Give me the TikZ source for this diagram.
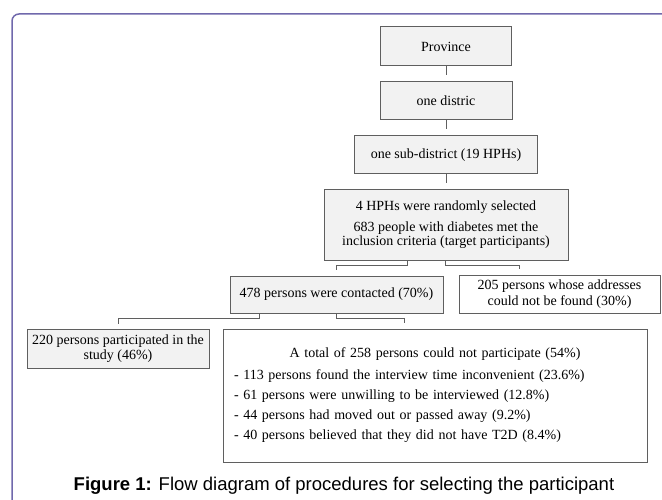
\documentclass[tikz,border=0pt]{standalone}
\usepackage{fontspec}
\setmainfont{Liberation Serif}
\newfontfamily\captionfont{Liberation Sans}
\usetikzlibrary{positioning}

\definecolor{framepurple}{RGB}{112,104,172}
\definecolor{boxgrey}{RGB}{242,242,242}
\definecolor{edgegrey}{RGB}{95,95,95}

\begin{document}
\begin{tikzpicture}[
	x=1pt, y=-1pt,
	greybox/.style={
		rectangle,
		draw=edgegrey,
		line width=1pt,
		fill=boxgrey,
		align=center,
		inner sep=2pt,
		font=\fontsize{14}{14.5}\selectfont
	},
	whitebox/.style={
		greybox,
		fill=white
	},
	link/.style={
		draw=edgegrey,
		line width=1pt
	}
	]
	\useasboundingbox (0,0) rectangle (662,500);
	\draw[framepurple, line width=1.5pt, rounded corners=7pt] (12,14) rectangle (690,530);

	% sampling stages
	\node[greybox, minimum width=131pt, minimum height=39pt] (province) at (446,46.5) {Province};
	\node[greybox, minimum width=132pt, minimum height=38pt] (district) at (446,101) {one distric};
	\node[greybox, minimum width=183pt, minimum height=38pt] (subdistrict) at (446,155) {one sub-district (19 HPHs)};
	\node[greybox, minimum width=244pt, minimum height=70pt] (hphs) at (446,225) {4 HPHs were randomly selected\\[6pt]683 people with diabetes met the\\inclusion criteria (target participants)};

	% outcomes
	\node[greybox, minimum width=213pt, minimum height=37pt] (contact) at (336.5,294.5) {478 persons were contacted (70\%)};
	\node[whitebox, minimum width=201pt, minimum height=38pt, font=\fontsize{14}{16}\selectfont] (notfound) at (559.5,294) {205 persons whose addresses\\could not be found (30\%)};
	\node[greybox, minimum width=182pt, minimum height=39pt] (joined) at (118,348.5) {220 persons participated in the\\study (46\%)};
	\node[whitebox, minimum width=424pt, minimum height=133pt, text width=402pt, align=left, font=\fontsize{14}{20}\selectfont] (noshow) at (435,395.5) {\makebox[402pt]{A total of 258 persons could not participate (54\%)}\\[2pt]
		- 113 persons found the interview time inconvenient (23.6\%)\\
		- 61 persons were unwilling to be interviewed (12.8\%)\\
		- 44 persons had moved out or passed away (9.2\%)\\
		- 40 persons believed that they did not have T2D (8.4\%)};

	\node[font=\captionfont\fontsize{18.5}{22}\selectfont] (caption) at (344,486) {\textbf{Figure 1:} Flow diagram of procedures for selecting the participant};

	\draw[link] (province.south) -- ([yshift=6pt]district.north);
	\draw[link] (district.south) -- ([yshift=6pt]subdistrict.north);
	\draw[link] (subdistrict.south) -- ([yshift=6pt]hphs.north);
	\draw[link] ([xshift=-39pt]hphs.south) -- ++(0,5) -| ([yshift=6pt]contact.north);
	\draw[link] ([xshift=-1pt]hphs.south) -- ++(0,5) -| ([xshift=-40.5pt,yshift=6pt]notfound.north);
	\draw[link] ([xshift=-77.5pt]contact.south) -- ++(0,5) -| ([yshift=5pt]joined.north);
	\draw[link] (contact.south) -- ++(0,5) -| ([xshift=-31pt,yshift=6pt]noshow.north);
\end{tikzpicture}
\end{document}
